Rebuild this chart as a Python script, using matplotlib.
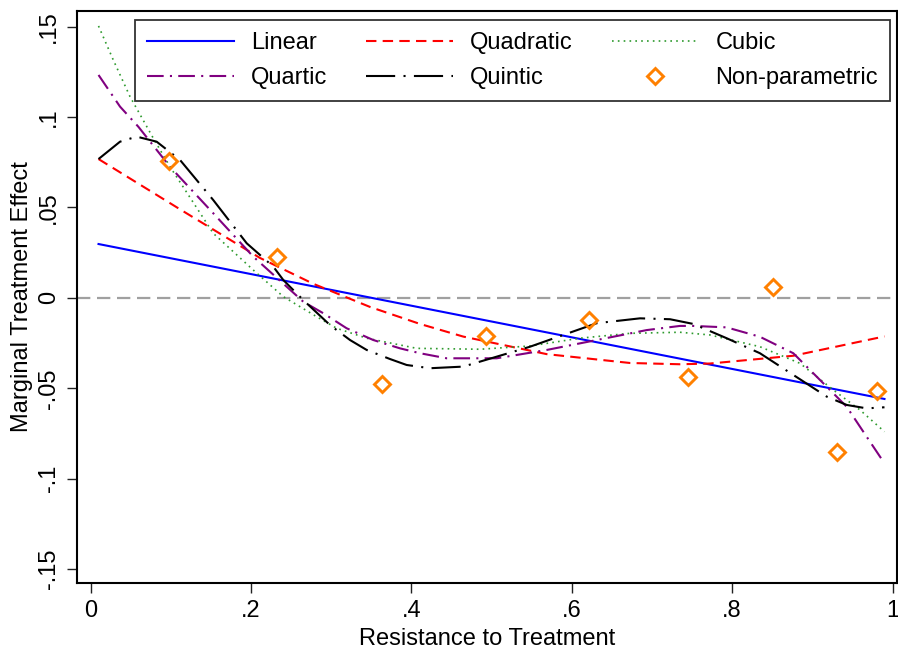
import matplotlib
matplotlib.use("Agg")
import matplotlib.pyplot as plt

plt.rcParams['font.family'] = ['Liberation Sans', 'DejaVu Sans']

# ---------------- data ----------------
x_ticks = [0, 0.2, 0.4, 0.6, 0.8, 1.0]
x_tick_labels = ['0', '.2', '.4', '.6', '.8', '1']
y_ticks = [-0.15, -0.10, -0.05, 0.0, 0.05, 0.10, 0.15]
y_tick_labels = ['-.15', '-.1', '-.05', '0', '.05', '.1', '.15']

linear_x = [0.01, 0.99]
linear_y = [0.0298, -0.0559]

quad_x = [0.01, 0.1116, 0.2113, 0.2778, 0.3485, 0.4108, 0.4648, 0.5688,
          0.6727, 0.735, 0.7724, 0.8763, 0.99]
quad_y = [0.0768, 0.0490, 0.0221, 0.0078, -0.0050, -0.0144, -0.0214, -0.0311,
          -0.0360, -0.0367, -0.0363, -0.0320, -0.0213]

cubic_x = [0.01, 0.0284, 0.0493, 0.0783, 0.0991, 0.1531, 0.2030, 0.2404,
           0.282, 0.307, 0.3444, 0.4067, 0.4857, 0.548, 0.610, 0.6727, 0.735,
           0.7724, 0.8347, 0.8847, 0.9262, 0.9595, 0.99]
cubic_y = [0.1504, 0.1316, 0.1113, 0.0883, 0.0726, 0.0357, 0.0154, 0.0007,
           -0.0104, -0.0168, -0.0223, -0.0279, -0.0284, -0.0266, -0.0223,
           -0.0196, -0.0190, -0.0205, -0.0270, -0.0362, -0.0509, -0.0620, -0.0740]

quart_x = [0.01, 0.0368, 0.0596, 0.099, 0.1531, 0.203, 0.2446, 0.2653, 0.2903,
           0.3194, 0.3526, 0.3859, 0.4108, 0.4441, 0.5065, 0.5688, 0.6312,
           0.6935, 0.735, 0.7516, 0.7932, 0.8347, 0.8763, 0.9096, 0.9429,
           0.9678, 0.99]
quart_y = [0.1233, 0.1058, 0.0947, 0.0726, 0.0468, 0.0228, 0.0062, -0.0021,
           -0.0085, -0.0168, -0.0233, -0.0279, -0.0306, -0.0334, -0.0334,
           -0.0288, -0.0233, -0.0178, -0.0155, -0.0155, -0.0163, -0.0215,
           -0.0306, -0.0454, -0.0602, -0.0768, -0.0915]

quint_x = [0.01, 0.0368, 0.0576, 0.0825, 0.1116, 0.1531, 0.1948, 0.2279,
           0.2404, 0.2653, 0.2986, 0.3236, 0.3444, 0.3734, 0.3942, 0.4233,
           0.4648, 0.5065, 0.548, 0.5895, 0.6312, 0.6852, 0.7226, 0.7516,
           0.7932, 0.8347, 0.8763, 0.918, 0.9429, 0.9678, 0.99]
quint_y = [0.0768, 0.0864, 0.0892, 0.0864, 0.0763, 0.0541, 0.0302, 0.0173,
           0.0099, -0.0012, -0.0150, -0.0233, -0.0288, -0.0338, -0.0371,
           -0.0389, -0.0380, -0.0325, -0.0270, -0.0205, -0.0140, -0.0113,
           -0.0118, -0.0144, -0.0223, -0.0306, -0.0426, -0.0546, -0.0592,
           -0.0611, -0.0605]

np_x = [0.0983, 0.2322, 0.3631, 0.4931, 0.6219, 0.7446, 0.8514, 0.9304, 0.9807]
np_y = [0.0759, 0.0225, -0.0478, -0.0211, -0.0122, -0.0439, 0.0062, -0.0854, -0.0515]

# ---------------- figure ----------------
W, H = 898, 652
fig = plt.figure(figsize=(W / 100, H / 100), dpi=100)
L, R, T, B = 77, 897, 11, 583
ax = fig.add_axes([L / W, 1 - B / H, (R - L) / W, (B - T) / H])

FS = 17
lw = 1.5

ax.axhline(0, color='#a0a0a0', lw=1.6, linestyle=(0, (6, 3)), zorder=1)

h_lin, = ax.plot(linear_x, linear_y, color='#0000ff', lw=lw, label='Linear', zorder=3)
h_quad, = ax.plot(quad_x, quad_y, color='#ff0000', lw=lw, linestyle=(0, (5, 3)),
                  label='Quadratic', zorder=3)
h_cub, = ax.plot(cubic_x, cubic_y, color='#2e9a2e', lw=1.2, linestyle=(0, (1, 2.5)),
                 label='Cubic', zorder=3)
h_qrt, = ax.plot(quart_x, quart_y, color='#800080', lw=lw,
                 linestyle=(0, (8, 3, 1, 3)), label='Quartic', zorder=3)
h_qnt, = ax.plot(quint_x, quint_y, color='black', lw=lw,
                 linestyle=(0, (14, 4, 1, 4)), label='Quintic', zorder=3)
h_np, = ax.plot(np_x, np_y, linestyle='none', marker='D', markersize=8.3,
                markerfacecolor='none', markeredgecolor='#ff8000',
                markeredgewidth=2.1, label='Non-parametric', zorder=4)

ax.set_xlim((L - 90.5) / 802, (R - 90.5) / 802)
ax.set_ylim((297.9 - B) / 1808, (297.9 - T) / 1808)

ax.set_xticks(x_ticks)
ax.set_xticklabels(x_tick_labels, fontsize=FS)
ax.set_yticks(y_ticks)
ax.set_yticklabels(y_tick_labels, fontsize=FS, rotation=90, va='center')
ax.tick_params(direction='out', length=7.5, width=1.0, color='#222222', pad=5)

for s in ax.spines.values():
    s.set_linewidth(1.5)
    s.set_color('black')

ax.set_xlabel('Resistance to Treatment', fontsize=FS, labelpad=4)
ax.set_ylabel('Marginal Treatment Effect', fontsize=FS, labelpad=3)

handles = [h_lin, h_qrt, h_quad, h_qnt, h_cub, h_np]
leg = ax.legend(handles=handles, ncol=3, fontsize=FS,
                loc='upper left', mode='expand',
                bbox_to_anchor=(135 / W, 1 - 97 / H, (890 - 135) / W, (97 - 20) / H),
                bbox_transform=fig.transFigure, borderaxespad=0,
                fancybox=False, framealpha=1, edgecolor='#333333',
                handlelength=3.7, handletextpad=0.7, columnspacing=1.5,
                labelspacing=0.55, borderpad=0.5)
leg.get_frame().set_linewidth(1.3)

fig.savefig('out.png', dpi=100)
